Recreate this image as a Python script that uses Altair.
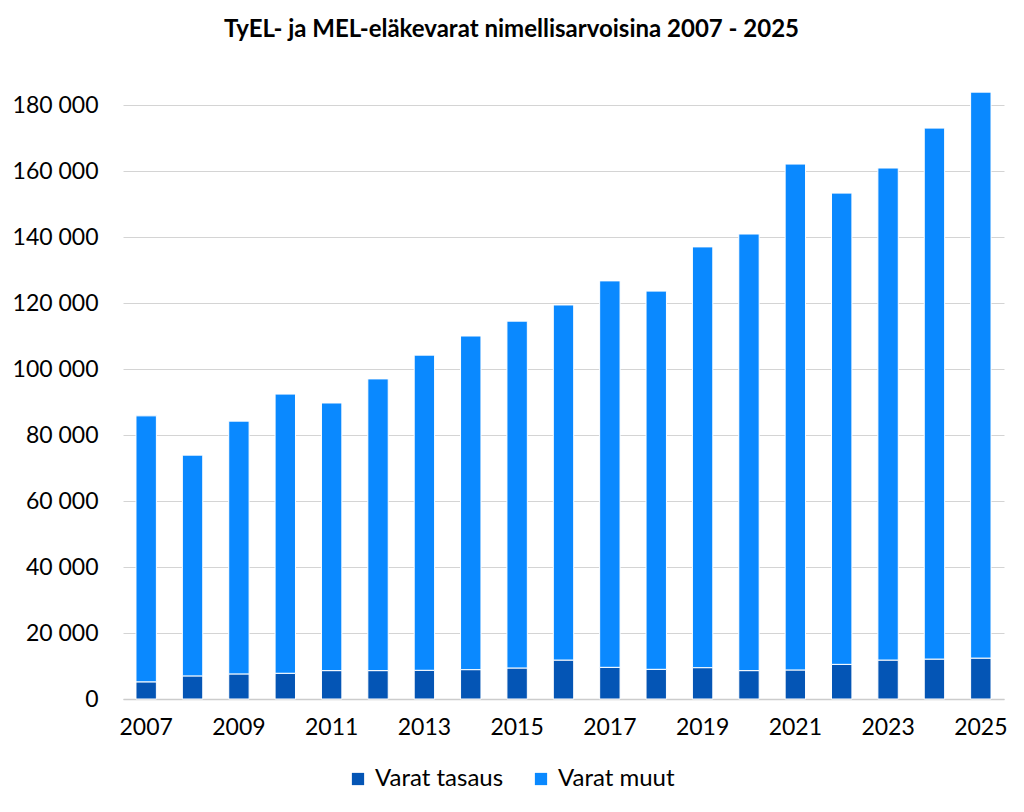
import altair as alt
import pandas as pd

years = [str(y) for y in range(2007, 2026)]
tasaus = [5200, 7000, 7600, 7800, 8600, 8600, 8700, 8900, 9400, 11800,
          9600, 9000, 9500, 8600, 8800, 10500, 11800, 12100, 12400]
muut = [80600, 66900, 76600, 84600, 81100, 88400, 95500, 101100, 105100, 107600,
        117100, 114600, 127500, 132300, 153300, 142800, 149100, 160900, 171500]
series = ["Varat tasaus", "Varat muut"]
colors = ["#0455B5", "#0A89FF"]
label_years = [str(y) for y in range(2007, 2026, 2)]
y_ticks = list(range(0, 180001, 20000))

rows = []
for i, yr in enumerate(years):
    rows.append({"vuosi": yr, "sarja": series[0], "arvo": tasaus[i], "jarj": 0})
    rows.append({"vuosi": yr, "sarja": series[1], "arvo": muut[i], "jarj": 1})
df = pd.DataFrame(rows)

FONT = "Lato"

chart = alt.Chart(df).mark_bar(stroke="white", strokeWidth=1).encode(
    x=alt.X("vuosi:O", title=None,
            scale=alt.Scale(paddingInner=0.56, paddingOuter=0.28),
            axis=alt.Axis(values=label_years, labelAngle=0, ticks=False,
                          domainColor="#cccccc", domainWidth=1.5,
                          labelFontSize=23, labelPadding=17,
                          labelColor="#000000", labelFont=FONT)),
    y=alt.Y("arvo:Q", title=None, stack="zero",
            scale=alt.Scale(domain=[0, 190000], nice=False),
            axis=alt.Axis(values=y_ticks, format=",d", domain=False, ticks=False,
                          gridColor="#d4d4d4", gridWidth=1,
                          labelFontSize=23, labelPadding=25,
                          labelColor="#000000", labelFont=FONT)),
    color=alt.Color("sarja:N", scale=alt.Scale(domain=series, range=colors),
                    legend=alt.Legend(title=None, orient="none", direction="horizontal",
                                      legendX=223, legendY=695,
                                      symbolType="square", symbolSize=150,
                                      symbolStrokeWidth=0,
                                      labelFontSize=24, labelFont=FONT,
                                      labelColor="#000000", columnPadding=25,
                                      labelOffset=5)),
    order=alt.Order("jarj:Q", sort="ascending"),
).properties(
    width=881,
    height=627,
    title=alt.TitleParams("TyEL- ja MEL-eläkevarat nimellisarvoisina 2007 - 2025",
                          font=FONT, fontSize=24, fontWeight="bold", color="#000000",
                          anchor="middle", dx=-52, offset=30),
    autosize=alt.AutoSizeParams(type="none"),
    padding={"left": 115, "top": 64, "right": 12, "bottom": 105},
).configure(
    locale={"number": {"decimal": ",", "thousands": " ", "grouping": [3],
                       "currency": ["", " €"]}}
).configure_view(stroke=None)

chart.save("out.html", embed_options={"renderer": "svg", "actions": False})
